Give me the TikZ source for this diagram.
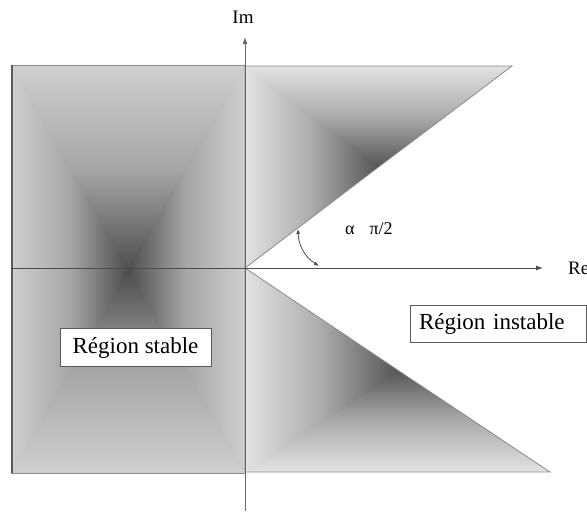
\documentclass[tikz,border=0pt]{standalone}
\usepackage{fontspec}
\setmainfont{Liberation Serif}
\usetikzlibrary{arrows.meta}
\definecolor{rlt}{HTML}{CFCFCF}
\definecolor{rmd}{HTML}{A6A6A6}
\definecolor{rdk}{HTML}{4E4E4E}
\definecolor{wlt}{HTML}{E2E2E2}
\definecolor{wmd}{HTML}{ABABAB}
\definecolor{wdk}{HTML}{565656}
\pgfdeclareverticalshading{rDn}{100bp}{color(0bp)=(rdk); color(25bp)=(rdk); color(50bp)=(rmd); color(75bp)=(rlt); color(100bp)=(rlt)}
\pgfdeclareverticalshading{rUp}{100bp}{color(0bp)=(rlt); color(25bp)=(rlt); color(50bp)=(rmd); color(75bp)=(rdk); color(100bp)=(rdk)}
\pgfdeclarehorizontalshading{rRt}{100bp}{color(0bp)=(rlt); color(25bp)=(rlt); color(50bp)=(rmd); color(75bp)=(rdk); color(100bp)=(rdk)}
\pgfdeclarehorizontalshading{rLt}{100bp}{color(0bp)=(rdk); color(25bp)=(rdk); color(50bp)=(rmd); color(75bp)=(rlt); color(100bp)=(rlt)}
\pgfdeclareverticalshading{wDn}{100bp}{color(0bp)=(wdk); color(25bp)=(wdk); color(50bp)=(wmd); color(75bp)=(wlt); color(100bp)=(wlt)}
\pgfdeclareverticalshading{wUp}{100bp}{color(0bp)=(wlt); color(25bp)=(wlt); color(50bp)=(wmd); color(75bp)=(wdk); color(100bp)=(wdk)}
\pgfdeclarehorizontalshading{wRt}{100bp}{color(0bp)=(wlt); color(25bp)=(wlt); color(50bp)=(wmd); color(75bp)=(wdk); color(100bp)=(wdk)}
\pgfdeclarehorizontalshading{wLt}{100bp}{color(0bp)=(wdk); color(25bp)=(wdk); color(50bp)=(wmd); color(75bp)=(wlt); color(100bp)=(wlt)}
% rectangle-path gradient: x1 y1 x2 y2 cx cy prefix
\newcommand\quadshade[7]{%
\begin{scope}\clip (#1,#2)--(#3,#2)--(#5,#6)--cycle; \shade[shading=#7Dn] (#1,#2) rectangle (#3,#6);\end{scope}
\begin{scope}\clip (#1,#4)--(#3,#4)--(#5,#6)--cycle; \shade[shading=#7Up] (#1,#6) rectangle (#3,#4);\end{scope}
\begin{scope}\clip (#1,#2)--([xshift=1.2pt]#1,#2)--([xshift=1.2pt]#5,#6)--([xshift=1.2pt]#1,#4)--(#1,#4)--cycle; \shade[shading=#7Rt] (#1,#2) rectangle (#5,#4);\end{scope}
\begin{scope}\clip (#3,#2)--([xshift=-1.2pt]#3,#2)--([xshift=-1.2pt]#5,#6)--([xshift=-1.2pt]#3,#4)--(#3,#4)--cycle; \shade[shading=#7Lt] (#5,#2) rectangle (#3,#4);\end{scope}}
\tikzset{
  border/.style={draw=black!45, line width=0.8pt},
  axis/.style={draw=black!60, line width=0.9pt, -{Latex[length=7pt,width=5pt]}},
  label/.style={font=\fontsize{19}{22}\selectfont, inner sep=0pt},
  regionbox/.style={draw=black!65, line width=0.9pt, fill=white, font=\fontsize{23}{26}\selectfont, minimum height=38pt},
  anglearc/.style={draw=black!70, line width=0.8pt, {Latex[length=5pt,width=4pt]}-{Latex[length=5pt,width=4pt]}}
}
\begin{document}
\begin{tikzpicture}[x=1pt,y=-1pt]
\useasboundingbox (0,0) rectangle (587,516);
% stable region (left rectangle)
\quadshade{11}{65}{245}{473}{128}{271}{r}
\draw[border] (11,65) rectangle (245,473);
\draw[draw=black!65, line width=2.5pt] (12.2,65) -- (12.2,473);
% upper unstable wedge
\begin{scope}
\clip (245,268) -- (245,66) -- (512,66) -- cycle;
\quadshade{245}{66}{512}{268}{378.5}{167}{w}
\end{scope}
\draw[border] (245,268) -- (245,66) -- (512,66) -- cycle;
% lower unstable wedge
\begin{scope}
\clip (245,268) -- (245,472) -- (550,472) -- cycle;
\quadshade{245}{268}{550}{472}{397.5}{370}{w}
\end{scope}
\draw[border] (245,268) -- (245,472) -- (550,472) -- cycle;
% axes
\coordinate (O) at (245,268);
\coordinate (imbot) at (245,511);
\coordinate (imtop) at (245,37);
\coordinate (reL) at (11,268);
\coordinate (reR) at (543,268);
\draw[axis] (imbot) -- (imtop);
\draw[axis, draw=black!70] (reL) -- (reR);
\node[label] (im) at (243,17) {Im};
\node[label, anchor=west] (re) at (568,268) {Re};
% angle
\coordinate (angA) at (298,229);
\coordinate (angB) at (319,266);
\draw[anglearc] (angA) to[bend right=28] (angB);
\node[font=\fontsize{18}{21}\selectfont, anchor=base west, inner sep=0pt] (alpha) at (345,235) {α\hspace{15pt}π/2};
% region labels
\node[regionbox, minimum width=151pt] (stable) at (135.5,347.5) {Région stable};
\node[regionbox, text width=158pt, inner xsep=9pt, align=left, minimum height=37pt] (instable) at (498,323.5) {Région instable};
\end{tikzpicture}
\end{document}
